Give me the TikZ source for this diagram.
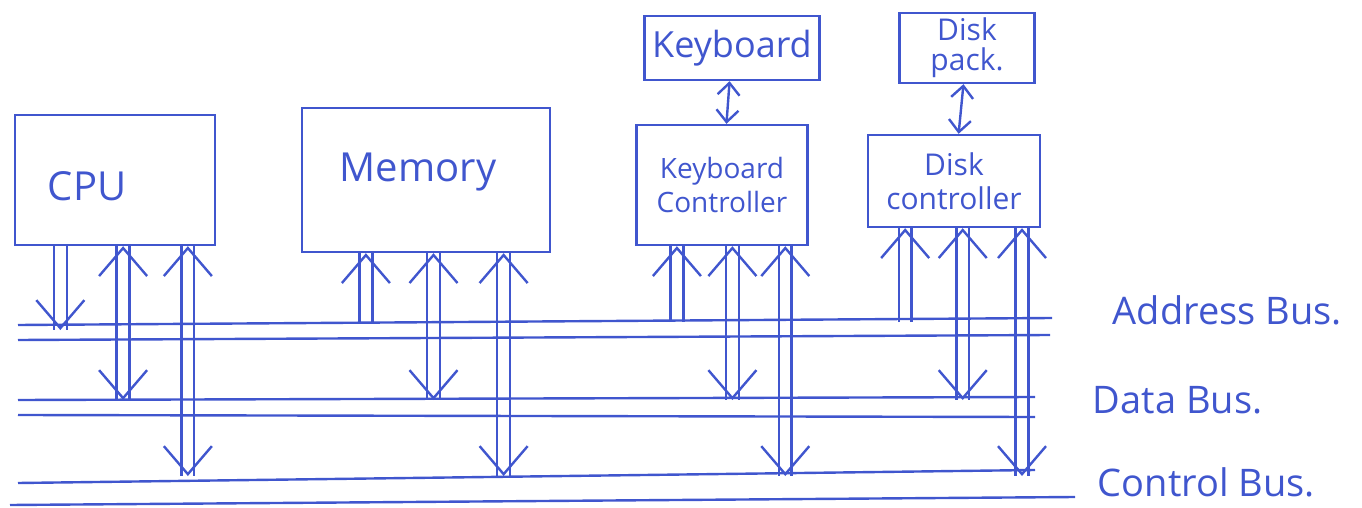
\documentclass[tikz,border=0pt]{standalone}
\usepackage{fontspec}
\setmainfont{Open Sans}
\usepackage{tikz}
\usetikzlibrary{positioning, calc, arrows.meta, decorations.markings, backgrounds}
\definecolor{pen}{RGB}{64,86,206}

\begin{document}
\begin{tikzpicture}[x=0.5pt, y=-0.5pt, pen, line width=1.2pt,
    unit/.style={draw, rectangle, align=center, inner sep=2pt},
    link/.style={{Straight Barb[length=6pt, width=11pt]}-{Straight Barb[length=6pt, width=11pt]}},
    pipe/.style={draw=pen, line width=7.6pt, postaction={draw=white, line width=5.2pt}},
    headend/.style={postaction={decorate, decoration={markings,
        mark=at position 1 with {\arrow[pen, line width=1.2pt]{Straight Barb[length=14pt, width=24pt, line width=1.2pt]}}}}},
    headstart/.style={postaction={decorate, decoration={markings,
        mark=at position 0 with {\arrowreversed[pen, line width=1.2pt]{Straight Barb[length=14pt, width=24pt, line width=1.2pt]}}}}},
    buslabel/.style={anchor=west, font=\fontsize{19}{22}\selectfont}]
    \useasboundingbox (0,0) rectangle (1362,508);

    % units
    \node[unit, minimum width=100pt, minimum height=65pt, font=\fontsize{20}{24}\selectfont] (cpu) at (115,180) {};
    \node[font=\fontsize{20}{24}\selectfont] (cputxt) at (87,186) {CPU};
    \node[unit, minimum width=124pt, minimum height=72pt] (mem) at (426,180) {};
    \node[font=\fontsize{20}{24}\selectfont] (memtxt) at (418,172) {Memory};
    \node[unit, minimum width=87.5pt, minimum height=32pt, font=\fontsize{18}{21}\selectfont] (kbd) at (732,48) {Keyboard};
    \node[unit, minimum width=85.5pt, minimum height=60pt, font=\fontsize{14}{17}\selectfont] (kbc) at (722,185) {Keyboard\\Controller};
    \node[unit, minimum width=67.5pt, minimum height=35pt, font=\fontsize{15}{15}\selectfont] (dpk) at (967,48) {Disk\\pack.};
    \node[unit, minimum width=86pt, minimum height=46pt, font=\fontsize{15}{17}\selectfont] (dkc) at (954,181) {Disk\\controller};

    \draw[link] (kbd) -- (kbc);
    \draw[link] (dpk) -- (dkc);

    % the three buses, two wires each
    \coordinate (abus) at (0,322);
    \coordinate (dbus) at (0,400);
    \coordinate (cbus) at (0,476);
    \foreach \ya/\yb/\xb in {325/318/1052, 340/335/1050, 400/397/1035, 415/417/1035, 483/470/1035}
        \draw (18,\ya) -- (\xb,\yb);
    \draw (10,505) -- (1075,497);

    \node[buslabel] (alab) at (1105,310) {Address Bus.};
    \node[buslabel] (dlab) at (1085,400) {Data Bus.};
    \node[buslabel] (clab) at (1090,482) {Control Bus.};

    \begin{scope}[on background layer]
        % address lines
        \path ($(cpu.south west)!0.23!(cpu.south east)$) coordinate (p);
        \draw[pipe, headend] (p) -- ([yshift=-4pt]p |- abus);
        \foreach \u/\f in {mem/0.26, kbc/0.24, dkc/0.22} {
            \path ($(\u.south west)!\f!(\u.south east)$) coordinate (p);
            \draw[pipe, headend] (p |- abus) -- (p);
        }
        % data and control lines
        \foreach \u/\f/\g in {cpu/0.54/0.86, mem/0.53/0.81, kbc/0.56/0.865, dkc/0.55/0.89} {
            \path ($(\u.south west)!\f!(\u.south east)$) coordinate (p)
                  ($(\u.south west)!\g!(\u.south east)$) coordinate (q);
            \draw[pipe, headstart, headend] (p) -- (p |- dbus);
            \draw[pipe, headstart, headend] (q) -- (q |- cbus);
        }
    \end{scope}
\end{tikzpicture}
\end{document}
